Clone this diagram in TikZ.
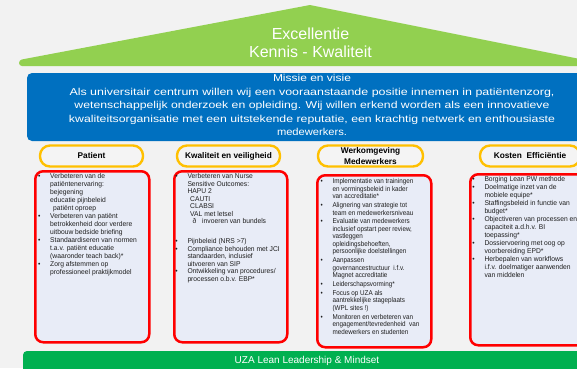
\documentclass[tikz,border=0pt]{standalone}
\usepackage{fontspec}
\usepackage{graphicx}
\setmainfont{Liberation Sans}
\newfontfamily\listfont[FakeStretch=0.96]{Liberation Sans}
\newfontfamily\narrowlistfont[FakeStretch=0.9]{Liberation Sans}

\definecolor{bggray}{HTML}{F2F2F2}
\definecolor{roofgreen}{HTML}{92D050}
\definecolor{missionblue}{HTML}{0070C0}
\definecolor{basegreen}{HTML}{00B050}
\definecolor{pillorange}{HTML}{FFC000}
\definecolor{pillfill}{HTML}{F4F4F4}
\definecolor{boxred}{HTML}{FF0000}
\definecolor{boxfill}{HTML}{E8ECF7}
\definecolor{listgray}{HTML}{1E1E1E}

\newcommand{\itm}{\llap{\textbullet\hspace{9.8pt}}}
\newcommand{\fitline}[2]{\resizebox{#1}{\height}{#2}}

\tikzset{
  pill/.style={draw=pillorange, line width=2.4pt, fill=pillfill,
    rounded corners=10pt, minimum height=21pt, inner sep=0pt,
    font=\fontsize{8.3}{11.5}\selectfont\bfseries, align=center, text=black},
  listbox/.style={draw=boxred, line width=2.5pt, fill=boxfill,
    rounded corners=8pt, inner sep=0pt, anchor=north west},
  listtext/.style={anchor=north west, inner sep=0pt, align=left, text=listgray},
  whitetext/.style={text=white, inner sep=0pt, align=center},
}

\begin{document}
\begin{tikzpicture}[x=1pt, y=-1pt]
  \useasboundingbox (0,0) rectangle (577,368);
  \clip (0,0) rectangle (577,368);
  \fill[bggray] (0,0) rectangle (577,368);

  % roof
  \fill[roofgreen] (310,5) -- (620,67) -- (620,66)
    [rounded corners=3pt] -- (19,66) -- (19,60) [sharp corners] -- cycle;
  \node[whitetext, font=\fontsize{16}{18}\selectfont] (roof) at (310.5,43)
    {Excellentie\\Kennis - Kwaliteit};

  % mission band
  \fill[missionblue, rounded corners=5pt] (27,73) rectangle (620,141);
  \node[whitetext, font=\fontsize{10}{13.5}\selectfont] (mission) at (312,105)
    {\fitline{78pt}{Missie en visie}\\
     \fitline{485pt}{Als universitair centrum willen wij een vooraanstaande positie innemen in pati\"entenzorg,}\\
     \fitline{475pt}{wetenschappelijk onderzoek en opleiding. Wij willen erkend worden als een innovatieve}\\
     \fitline{486pt}{kwaliteitsorganisatie met een uitstekende reputatie, een krachtig netwerk en enthousiaste}\\
     \fitline{70pt}{medewerkers.}};

  % pillar headers
  \node[pill, minimum width=103pt] (h1) at (91.5,156) {Patient};
  \node[pill, minimum width=103pt] (h2) at (228.5,156) {Kwaliteit en veiligheid};
  \node[pill, minimum width=105pt] (h3) at (370.5,156) {Werkomgeving\\Medewerkers};
  \node[pill, minimum width=100pt] (h4) at (530,156) {Kosten\ \ Effici\"entie};

  % pillar boxes
  \node[listbox, minimum width=114pt, minimum height=171pt] (b1) at (34,170) {};
  \node[listbox, minimum width=113pt, minimum height=171pt] (b2) at (173,170) {};
  \node[listbox, minimum width=114pt, minimum height=172pt] (b3) at (316,174) {};
  \node[listbox, minimum width=131pt, minimum height=171pt] (b4) at (469,173) {};

  \node[listtext, font=\listfont\fontsize{7}{8}\selectfont] (t1) at (50,173.4)
    {\itm Verbeteren van de\\
     pati\"entenervaring:\\
     bejegening\\
     educatie pijnbeleid\\
     \hspace*{3pt}pati\"ent oproep\\
     \itm Verbeteren van pati\"ent\\
     betrokkenheid door verdere\\
     uitbouw bedside briefing\\
     \itm Standaardiseren van normen\\
     t.a.v. pati\"ent educatie\\
     (waaronder teach back)*\\
     \itm Zorg afstemmen op\\
     professioneel praktijkmodel};

  \node[listtext, font=\listfont\fontsize{7}{7.5}\selectfont] (t2) at (187.3,173.4)
    {\itm Verbeteren van Nurse\\
     Sensitive Outcomes:\\
     HAPU 2\\
     \hspace*{2.7pt}CAUTI\\
     \hspace*{2.7pt}CLABSI\\
     \hspace*{2.7pt}VAL met letsel\\
     \hspace*{5pt}ð\hspace*{6pt}invoeren van bundels\\[12.5pt]
     \itm Pijnbeleid (NRS >7)\\
     \itm Compliance behouden met JCI\\
     standaarden, inclusief\\
     uitvoeren van SIP\\
     \itm Ontwikkeling van procedures/\\
     processen o.b.v. EBP*};

  \node[listtext, font=\narrowlistfont\fontsize{7}{7.5}\selectfont] (t3) at (332.3,178.5)
    {\itm Implementatie van trainingen\\
     en vormingsbeleid in kader\\
     van accreditatie*\\[1.3pt]
     \itm Alignering van strategie tot\\
     team en medewerkersniveau\\[1.3pt]
     \itm Evaluatie van medewerkers\\
     inclusief opstart peer review,\\
     vastleggen\\
     opleidingsbehoeften,\\
     persoonlijke doelstellingen\\[1.3pt]
     \itm Aanpassen\\
     governancestructuur\ \ i.f.v.\\
     Magnet accreditatie\\[1.3pt]
     \itm Leiderschapsvorming*\\[1.3pt]
     \itm Focus op UZA als\\
     aantrekkelijke stageplaats\\
     (WPL sites !)\\[1.3pt]
     \itm Monitoren en verbeteren van\\
     engagement/tevredenheid\ \ van\\
     medewerkers en studenten};

  \node[listtext, font=\listfont\fontsize{7}{8}\selectfont] (t4) at (484.3,176.5)
    {\itm Borging Lean PW methode\\
     \itm Doelmatige inzet van de\\
     mobiele equipe*\\
     \itm Staffingsbeleid in functie van\\
     budget*\\
     \itm Objectiveren van processen en\\
     capaciteit a.d.h.v. BI\\
     toepassing*\\
     \itm Dossiervoering met oog op\\
     voorbereiding EPD*\\
     \itm Herbepalen van workflows\\
     i.f.v. doelmatiger aanwenden\\
     van middelen};

  % foundation
  \fill[basegreen, rounded corners=4pt] (23,351) rectangle (620,390);
  \node[whitetext, font=\fontsize{10}{12}\selectfont] (base) at (307,361)
    {UZA Lean Leadership \& Mindset};
\end{tikzpicture}
\end{document}
